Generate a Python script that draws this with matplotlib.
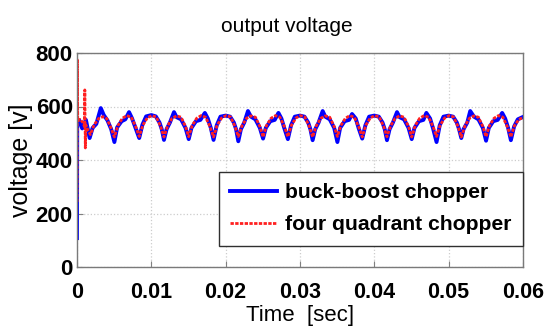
import matplotlib
matplotlib.use("Agg")
import matplotlib.pyplot as plt
import numpy as np

# ---- data (time in ms, voltage in V) ----
blue_t_ms = [0, 0.03, 0.3, 0.7, 1.2, 1.7,
             2.1, 2.6, 3.2, 3.6, 4.1, 4.6, 5.03,
             5.4, 6.0, 6.5, 7.0, 7.4, 7.9, 8.37,
             8.8, 9.3, 10.0, 10.6, 11.1, 11.4, 11.70,
             12.05, 12.5, 13.05, 13.4, 14.0, 14.6, 15.03,
             15.4, 16.0, 16.6, 17.2, 17.6, 18.0, 18.37,
             18.8, 19.3, 20.0, 20.6, 21.1, 21.4, 21.70,
             22.05, 22.5, 23.0, 23.4, 24.0, 24.6, 25.03,
             25.4, 26.0, 26.6, 27.1, 27.5, 27.9, 28.37,
             28.8, 29.3, 30.0, 30.6, 31.1, 31.4, 31.70,
             32.05, 32.5, 33.05, 33.4, 34.0, 34.6, 35.03,
             35.4, 36.0, 36.6, 37.0, 37.5, 37.9, 38.37,
             38.8, 39.3, 40.0, 40.6, 41.1, 41.4, 41.70,
             42.05, 42.5, 43.05, 43.4, 44.0, 44.6, 45.03,
             45.4, 46.0, 46.6, 47.0, 47.5, 47.9, 48.37,
             48.8, 49.3, 50.0, 50.6, 51.1, 51.4, 51.70,
             52.0, 52.5, 52.9, 53.4, 54.0, 54.6, 55.03,
             55.4, 56.0, 56.6, 57.2, 57.6, 58.0, 58.37,
             58.8, 59.3, 60.0]
blue_v = [108, 550, 548, 518, 550, 482,
          520, 535, 594, 568, 548, 515, 467,
          522, 545, 552, 579, 556, 518, 482,
          532, 563, 568, 563, 540, 515, 475,
          515, 540, 579, 560, 552, 520, 478,
          520, 545, 550, 576, 555, 520, 475,
          530, 562, 566, 562, 540, 515, 470,
          515, 540, 583, 562, 552, 520, 480,
          520, 545, 550, 576, 555, 518, 478,
          530, 562, 566, 562, 540, 515, 474,
          515, 540, 583, 562, 552, 520, 467,
          520, 545, 550, 572, 555, 518, 480,
          530, 562, 566, 562, 540, 515, 474,
          515, 540, 579, 560, 552, 520, 478,
          520, 545, 550, 576, 555, 518, 467,
          530, 562, 566, 562, 540, 515, 482,
          515, 540, 583, 562, 552, 520, 472,
          520, 545, 550, 576, 555, 520, 474,
          525, 552, 561]

red_t_ms = [0, 0.05, 0.1, 0.4, 0.8, 1.0, 1.05, 1.12, 1.2, 1.5, 1.8,
            2.3, 2.9, 3.5, 4.0, 4.5, 5.03,
            5.5, 6.1, 6.7, 7.3, 7.9, 8.37,
            8.85, 9.45, 10.05, 10.65, 11.25, 11.70,
            12.2, 12.8, 13.4, 14.0, 14.6, 15.03,
            15.5, 16.1, 16.7, 17.3, 17.9, 18.37,
            18.85, 19.45, 20.05, 20.65, 21.25, 21.70,
            22.2, 22.8, 23.4, 24.0, 24.6, 25.03,
            25.5, 26.1, 26.7, 27.3, 27.9, 28.37,
            28.85, 29.45, 30.05, 30.65, 31.25, 31.70,
            32.2, 32.8, 33.4, 34.0, 34.6, 35.03,
            35.5, 36.1, 36.7, 37.3, 37.9, 38.37,
            38.85, 39.45, 40.05, 40.65, 41.25, 41.70,
            42.2, 42.8, 43.4, 44.0, 44.6, 45.03,
            45.5, 46.1, 46.7, 47.3, 47.9, 48.37,
            48.85, 49.45, 50.05, 50.65, 51.25, 51.70,
            52.2, 52.8, 53.4, 54.0, 54.6, 55.03,
            55.5, 56.1, 56.7, 57.3, 57.9, 58.37,
            58.85, 59.45, 60.0]
red_v = [243, 774, 545, 552, 540, 525, 662, 445, 530, 510, 495,
         531, 555, 562, 555, 525, 486,
         528, 556, 566, 560, 525, 488,
         530, 557, 566, 561, 526, 486,
         528, 556, 565, 560, 525, 487,
         529, 556, 566, 560, 524, 486,
         530, 557, 566, 561, 526, 488,
         528, 556, 565, 560, 525, 486,
         529, 556, 566, 560, 525, 487,
         530, 557, 566, 561, 526, 486,
         528, 556, 565, 560, 525, 488,
         529, 556, 566, 560, 524, 486,
         530, 557, 566, 561, 526, 487,
         528, 556, 565, 560, 525, 486,
         529, 556, 566, 560, 525, 488,
         530, 557, 566, 561, 526, 486,
         528, 556, 565, 560, 525, 487,
         529, 556, 566, 560, 524, 486,
         528, 552, 558]

x_ticks = [0, 0.01, 0.02, 0.03, 0.04, 0.05, 0.06]
x_tick_labels = ["0", "0.01", "0.02", "0.03", "0.04", "0.05", "0.06"]
y_ticks = [0, 200, 400, 600, 800]
y_tick_labels = ["0", "200", "400", "600", "800"]
series_names = ["buck-boost chopper", "four quadrant chopper"]

regular = ["Liberation Sans", "DejaVu Sans"]

fig = plt.figure(figsize=(5.45, 3.30), dpi=100)
ax = fig.add_axes([77/545, 1-267/330, (523-77)/545, (267-53)/330])

bt = np.array(blue_t_ms) / 1000.0
rt = np.array(red_t_ms) / 1000.0
ax.plot(bt, blue_v, color="#0000ff", lw=2.8, label=series_names[0], solid_joinstyle="round")
ax.plot(rt, red_v, color="#ff2020", lw=2.0, linestyle=(0, (1.2, 0.5)), label=series_names[1])

ax.set_xlim(0, 0.06)
ax.set_ylim(0, 800)
ax.set_xticks(x_ticks)
ax.set_yticks(y_ticks)
ax.set_xticklabels(x_tick_labels, fontfamily=regular, fontweight="bold", fontsize=15.5)
ax.set_yticklabels(y_tick_labels, fontfamily=regular, fontweight="bold", fontsize=16)
ax.tick_params(axis="x", direction="in", length=4, pad=11, color="#808080")
ax.tick_params(axis="y", direction="in", length=4, pad=3, color="#808080")
ax.grid(True, linestyle=":", color="#cccccc", lw=0.9)
for s in ax.spines.values():
    s.set_color("#7a7a7a")
    s.set_linewidth(1.0)

ax.set_title("output voltage", fontfamily=regular, fontsize=15, pad=15, x=(287-77)/446)
ax.set_xlabel("Time  [sec]", fontfamily=regular, fontsize=16, labelpad=1)
ax.set_ylabel("voltage [v]", fontfamily=regular, fontsize=18, labelpad=2)

leg = ax.legend(loc="lower right", bbox_to_anchor=(1.0, 0.098), borderaxespad=0,
                fancybox=False, framealpha=1, edgecolor="#303030", handlelength=2.2,
                handletextpad=0.4, borderpad=0.55, labelspacing=0.62,
                prop={"family": regular, "weight": "bold", "size": 15.2})
leg.get_frame().set_linewidth(1.0)

fig.savefig("out.png", dpi=100)
